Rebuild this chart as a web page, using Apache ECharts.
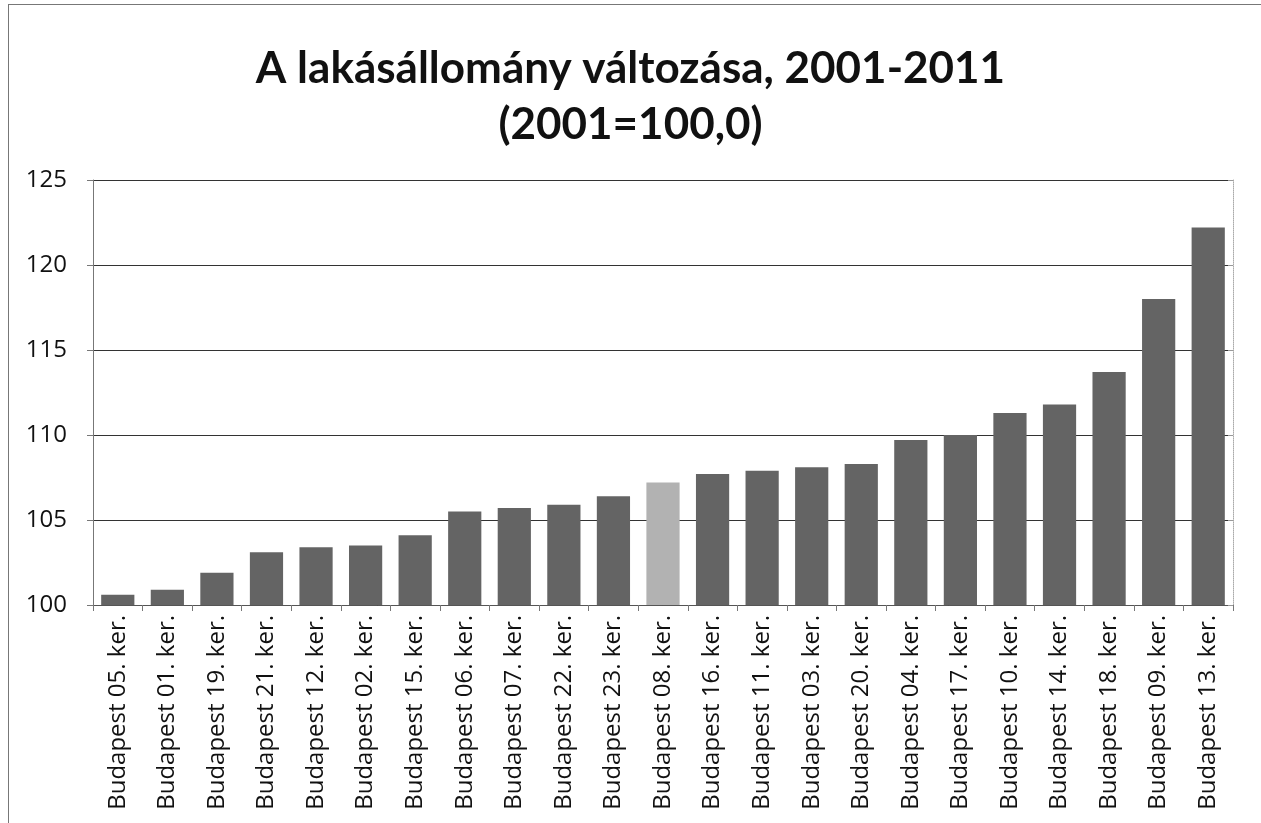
<!DOCTYPE html>
<html>
<head>
<meta charset="utf-8">
<script src="https://cdn.jsdelivr.net/npm/echarts@6/dist/echarts.min.js"></script>
<style>
  html, body { margin: 0; padding: 0; background: #fff; }
  #chart { width: 1261px; height: 823px; }
  .frame { position: absolute; left: 8px; top: 4px; width: 1260px; height: 830px; border: 1px solid #777; pointer-events: none; }
</style>
</head>
<body>
<div id="chart"></div>
<div class="frame"></div>
<script>
// kerületek, növekvő sorrendben
const districts = [
  'Budapest 05. ker.', 'Budapest 01. ker.', 'Budapest 19. ker.', 'Budapest 21. ker.',
  'Budapest 12. ker.', 'Budapest 02. ker.', 'Budapest 15. ker.', 'Budapest 06. ker.',
  'Budapest 07. ker.', 'Budapest 22. ker.', 'Budapest 23. ker.', 'Budapest 08. ker.',
  'Budapest 16. ker.', 'Budapest 11. ker.', 'Budapest 03. ker.', 'Budapest 20. ker.',
  'Budapest 04. ker.', 'Budapest 17. ker.', 'Budapest 10. ker.', 'Budapest 14. ker.',
  'Budapest 18. ker.', 'Budapest 09. ker.', 'Budapest 13. ker.'
]
// 2011-es lakásállomány, 2001 = 100
const stockIndex = [
  100.6, 100.9, 101.9, 103.1, 103.4, 103.5, 104.1, 105.5,
  105.7, 105.9, 106.4, 107.2, 107.7, 107.9, 108.1, 108.3,
  109.7, 110.0, 111.3, 111.8, 113.7, 118.0, 122.2
]
const highlighted = 'Budapest 08. ker.'
const yTicks = [100, 105, 110, 115, 120, 125]

const chart = echarts.init(document.getElementById('chart'))
chart.setOption({
  animation: false,
  title: {
    text: 'A lakásállomány változása, 2001-2011\n(2001=100,0)',
    left: 'center',
    top: 36,
    textStyle: {
      fontFamily: 'Lato',
      fontWeight: 'bold',
      fontSize: 44,
      lineHeight: 56,
      color: '#111'
    }
  },
  grid: { left: 93, right: 28, top: 180, bottom: 218 },
  xAxis: {
    type: 'category',
    data: districts,
    axisLine: { lineStyle: { color: '#555', width: 1 } },
    axisTick: { show: true, length: 6, lineStyle: { color: '#777' } },
    axisLabel: {
      rotate: 90,
      interval: 0,
      margin: 10,
      fontFamily: 'Open Sans',
      fontSize: 24,
      color: '#111'
    }
  },
  yAxis: [{
    type: 'value',
    min: yTicks[0],
    max: yTicks[yTicks.length - 1],
    interval: 5,
    axisLine: { show: true, lineStyle: { color: '#777' } },
    axisTick: { show: true, length: 6, lineStyle: { color: '#777' } },
    axisLabel: {
      margin: 26,
      fontFamily: 'Open Sans',
      fontSize: 24,
      color: '#111'
    },
    splitLine: { lineStyle: { color: '#333', width: 1 } }
  }, {
    type: 'value',
    position: 'right',
    min: yTicks[0],
    max: yTicks[yTicks.length - 1],
    interval: 5,
    axisLine: { show: true, lineStyle: { color: '#aaa', type: 'dotted' } },
    axisTick: { show: true, length: 5, inside: true, lineStyle: { color: '#999' } },
    axisLabel: { show: false },
    splitLine: { show: false }
  }],
  series: [{
    type: 'bar',
    data: stockIndex.map((v, i) => ({
      value: v,
      itemStyle: { color: districts[i] === highlighted ? '#b2b2b2' : '#646464' }
    })),
    barCategoryGap: '33%'
  }]
})
</script>
</body>
</html>
